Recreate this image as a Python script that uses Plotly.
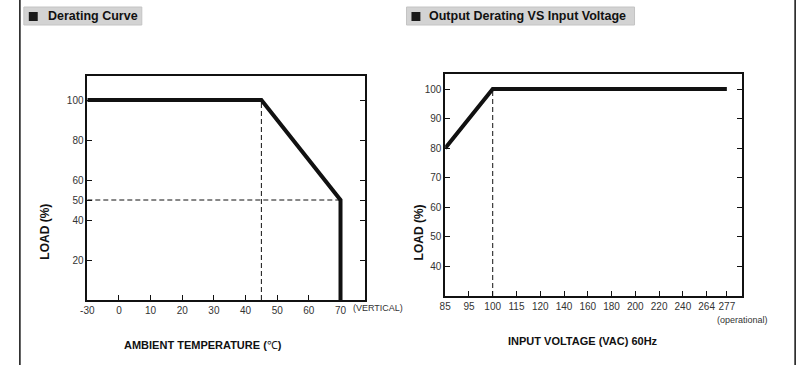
import numpy as np
import plotly.graph_objects as go

# ---------------- data ----------------
TEMP_TICKS = [-30, 0, 10, 20, 30, 40, 50, 60, 70]
TEMP_CURVE_X = [-30, 45, 70, 70]
TEMP_CURVE_Y = [100, 100, 50, 0]
TEMP_GUIDE_V_X = [45, 45]
TEMP_GUIDE_V_Y = [0, 100]
TEMP_GUIDE_H_X = [-30, 70]
TEMP_GUIDE_H_Y = [50, 50]
LOAD_TICKS_LEFT = [20, 40, 50, 60, 80, 100]

VOLT_TICKS = [85, 95, 100, 115, 120, 140, 160, 180, 200, 220, 240, 264, 277]
VOLT_CURVE_X = [85, 100, 277]
VOLT_CURVE_Y = [80, 100, 100]
VOLT_GUIDE_X = [100, 100]
VOLT_GUIDE_Y = [30, 100]
LOAD_TICKS_RIGHT = [40, 50, 60, 70, 80, 90, 100]

# ---------------- axis scales (non-uniform tick spacing as in the drawing) ----------------
TEMP_TICK_POS = list(range(len(TEMP_TICKS)))
VOLT_TICK_POS = list(range(len(VOLT_TICKS) - 1)) + [11.85]


def tpos(v):
    return list(np.interp(v, TEMP_TICKS, TEMP_TICK_POS))


def vpos(v):
    return list(np.interp(v, VOLT_TICKS, VOLT_TICK_POS))


W, H = 809, 365


def px(x):
    return x / W


def py(y):
    return 1 - y / H


TICK_FONT = dict(family="Liberation Sans, Arial, sans-serif", size=10, color="#333")
NOTE_FONT = dict(family="Liberation Sans, Arial, sans-serif", size=9, color="#333")
TITLE_FONT = dict(family="Liberation Sans, Arial, sans-serif", size=11, color="#111")
LOAD_FONT = dict(family="Liberation Sans, Arial, sans-serif", size=12, color="#111")
HEAD_FONT = dict(family="Liberation Sans, Arial, sans-serif", size=12.5, color="#111")

fig = go.Figure()

curve = dict(color="#111", width=4)
guide = dict(color="#111", width=1, dash="5px,3px")

# left chart
fig.add_trace(go.Scatter(x=tpos(TEMP_GUIDE_V_X), y=TEMP_GUIDE_V_Y, mode="lines", line=guide,
                         xaxis="x", yaxis="y", showlegend=False, hoverinfo="skip"))
fig.add_trace(go.Scatter(x=tpos(TEMP_GUIDE_H_X), y=TEMP_GUIDE_H_Y, mode="lines", line=guide,
                         xaxis="x", yaxis="y", showlegend=False, hoverinfo="skip"))
fig.add_trace(go.Scatter(x=tpos(TEMP_CURVE_X), y=TEMP_CURVE_Y, mode="lines", line=curve,
                         xaxis="x", yaxis="y", showlegend=False, cliponaxis=False))

# right chart
fig.add_trace(go.Scatter(x=vpos(VOLT_GUIDE_X), y=VOLT_GUIDE_Y, mode="lines", line=guide,
                         xaxis="x2", yaxis="y2", showlegend=False, hoverinfo="skip"))
fig.add_trace(go.Scatter(x=vpos(VOLT_CURVE_X), y=VOLT_CURVE_Y, mode="lines", line=curve,
                         xaxis="x2", yaxis="y2", showlegend=False, cliponaxis=False))

common_axis = dict(showgrid=False, zeroline=False, showline=True, linecolor="#111", linewidth=1.5,
                   ticks="inside", ticklen=5, tickwidth=1, tickcolor="#111", tickfont=TICK_FONT,
                   fixedrange=True)

fig.update_layout(
    width=W, height=H,
    margin=dict(l=0, r=0, t=0, b=0),
    paper_bgcolor="white", plot_bgcolor="white",
    xaxis=dict(domain=[px(81), px(361)], range=[0, 8.77], anchor="y",
               tickvals=TEMP_TICK_POS, ticktext=[str(t) for t in TEMP_TICKS],
               mirror=True, **common_axis),
    yaxis=dict(domain=[py(300), py(76)], range=[0, 112], anchor="x",
               tickvals=LOAD_TICKS_LEFT, mirror="ticks", **common_axis),
    xaxis2=dict(domain=[px(442), px(741)], range=[0, 12.47], anchor="y2",
                tickvals=VOLT_TICK_POS, ticktext=[str(t) for t in VOLT_TICKS],
                mirror=True, **common_axis),
    yaxis2=dict(domain=[py(296), py(74)], range=[30, 105.1], anchor="x2",
                tickvals=LOAD_TICKS_RIGHT, mirror="ticks", **common_axis),
)

shapes = []
# page borders
shapes.append(dict(type="line", xref="paper", yref="paper", x0=px(13), x1=px(13), y0=0, y1=1,
                   line=dict(color="#111", width=1.5)))
shapes.append(dict(type="line", xref="paper", yref="paper", x0=px(795), x1=px(795), y0=0, y1=1,
                   line=dict(color="#111", width=1.5)))
# heading boxes
for x0, x1 in [(17, 136), (403, 633)]:
    shapes.append(dict(type="rect", xref="paper", yref="paper", x0=px(x0), x1=px(x1),
                       y0=py(25), y1=py(7), fillcolor="#d3d3d3", line=dict(color="#c4c4c4", width=1)))
    shapes.append(dict(type="rect", xref="paper", yref="paper", x0=px(x0 + 5), x1=px(x0 + 14),
                       y0=py(21), y1=py(12), fillcolor="#1a1a1a", line=dict(width=0)))
fig.update_layout(shapes=shapes)

ann = []
ann.append(dict(text="<b>Derating Curve</b>", xref="paper", yref="paper", x=px(39), y=py(16),
                xanchor="left", yanchor="middle", showarrow=False, font=HEAD_FONT))
ann.append(dict(text="<b>Output Derating VS Input Voltage</b>", xref="paper", yref="paper",
                x=px(424), y=py(16), xanchor="left", yanchor="middle", showarrow=False, font=HEAD_FONT))
ann.append(dict(text="<b>LOAD (%)</b>", xref="paper", yref="paper", x=px(38), y=py(232),
                textangle=-90, xanchor="center", yanchor="middle", showarrow=False, font=LOAD_FONT))
ann.append(dict(text="<b>LOAD (%)</b>", xref="paper", yref="paper", x=px(416), y=py(232),
                textangle=-90, xanchor="center", yanchor="middle", showarrow=False, font=LOAD_FONT))
ann.append(dict(text="<b>AMBIENT TEMPERATURE (</b>℃<b>)</b>", xref="paper", yref="paper",
                x=px(198), y=py(345), xanchor="center", yanchor="middle", showarrow=False, font=TITLE_FONT))
ann.append(dict(text="<b>INPUT VOLTAGE (VAC) 60Hz</b>", xref="paper", yref="paper",
                x=px(581), y=py(341), xanchor="center", yanchor="middle", showarrow=False, font=TITLE_FONT))
ann.append(dict(text="(VERTICAL)", xref="x", yref="paper", x=TEMP_TICK_POS[-1], y=py(308),
                xanchor="left", xshift=10, yanchor="middle", showarrow=False, font=NOTE_FONT))
ann.append(dict(text="(operational)", xref="x2", yref="paper", x=VOLT_TICK_POS[-1], y=py(320),
                xanchor="left", xshift=-12, yanchor="middle", showarrow=False, font=NOTE_FONT))
fig.update_layout(annotations=ann)

fig.write_html("out.html", config={"displayModeBar": False},
               post_script="document.body.style.margin='0';document.body.style.overflow='hidden';")
